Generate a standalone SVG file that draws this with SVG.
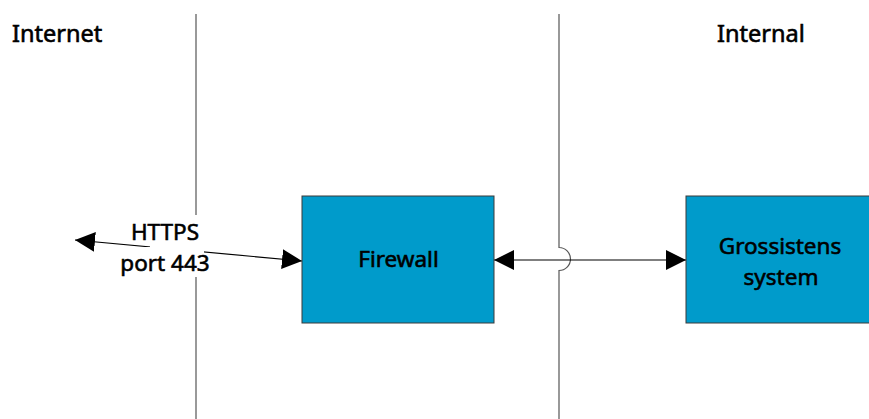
<svg xmlns="http://www.w3.org/2000/svg" width="869" height="419" viewBox="0 0 869 419">
<style>
  .t { font-family: "Noto Sans", "Open Sans", sans-serif; fill: #000; stroke: #000; stroke-width: 0.6; }
  .box { fill: #009BCB; stroke: #3a3a3a; stroke-width: 1; }
  .sep { fill: none; stroke: #555; stroke-width: 1.2; }
  .conn { fill: none; stroke: #000; stroke-width: 1.2; }
</style>
<defs>
  <marker id="arr" viewBox="0 0 20 20" refX="20" refY="10" markerWidth="20" markerHeight="20" markerUnits="userSpaceOnUse" orient="auto-start-reverse">
    <path d="M0,0 L20,10 L0,20 Z" fill="#000"/>
  </marker>
</defs>
<rect width="869" height="419" fill="#fff"/>
<g id="zones">
  <path class="sep" d="M196,14 V419"/>
  <path class="sep" d="M559,14 V247.5 A11.5,11.5 0 0 1 559,270.5 V419"/>
  <text class="t" x="12" y="42" font-size="23.5">Internet</text>
  <text class="t" x="717" y="42" font-size="23.5">Internal</text>
</g>
<g id="connectors">
  <path class="conn" d="M75,240 L302,261" marker-start="url(#arr)" marker-end="url(#arr)"/>
  <path class="conn" d="M494,260 L686,260" marker-start="url(#arr)" marker-end="url(#arr)"/>
  <g id="label-https">
    <path d="M127,215 H204 V277 H117 V247 H150 V244 H127 Z" fill="#fff"/>
    <text class="t" font-size="22.5" text-anchor="middle"><tspan x="165" y="240">HTTPS</tspan><tspan x="165" y="271">port 443</tspan></text>
  </g>
</g>
<g id="firewall">
  <rect class="box" x="302" y="196" width="192" height="127"/>
  <text class="t" x="398.5" y="267" font-size="22.5" text-anchor="middle">Firewall</text>
</g>
<g id="grossistens">
  <rect class="box" x="686" y="196" width="192" height="127"/>
  <text class="t" font-size="22.5" text-anchor="middle"><tspan x="780" y="254">Grossistens</tspan><tspan x="781" y="285">system</tspan></text>
</g>
</svg>
